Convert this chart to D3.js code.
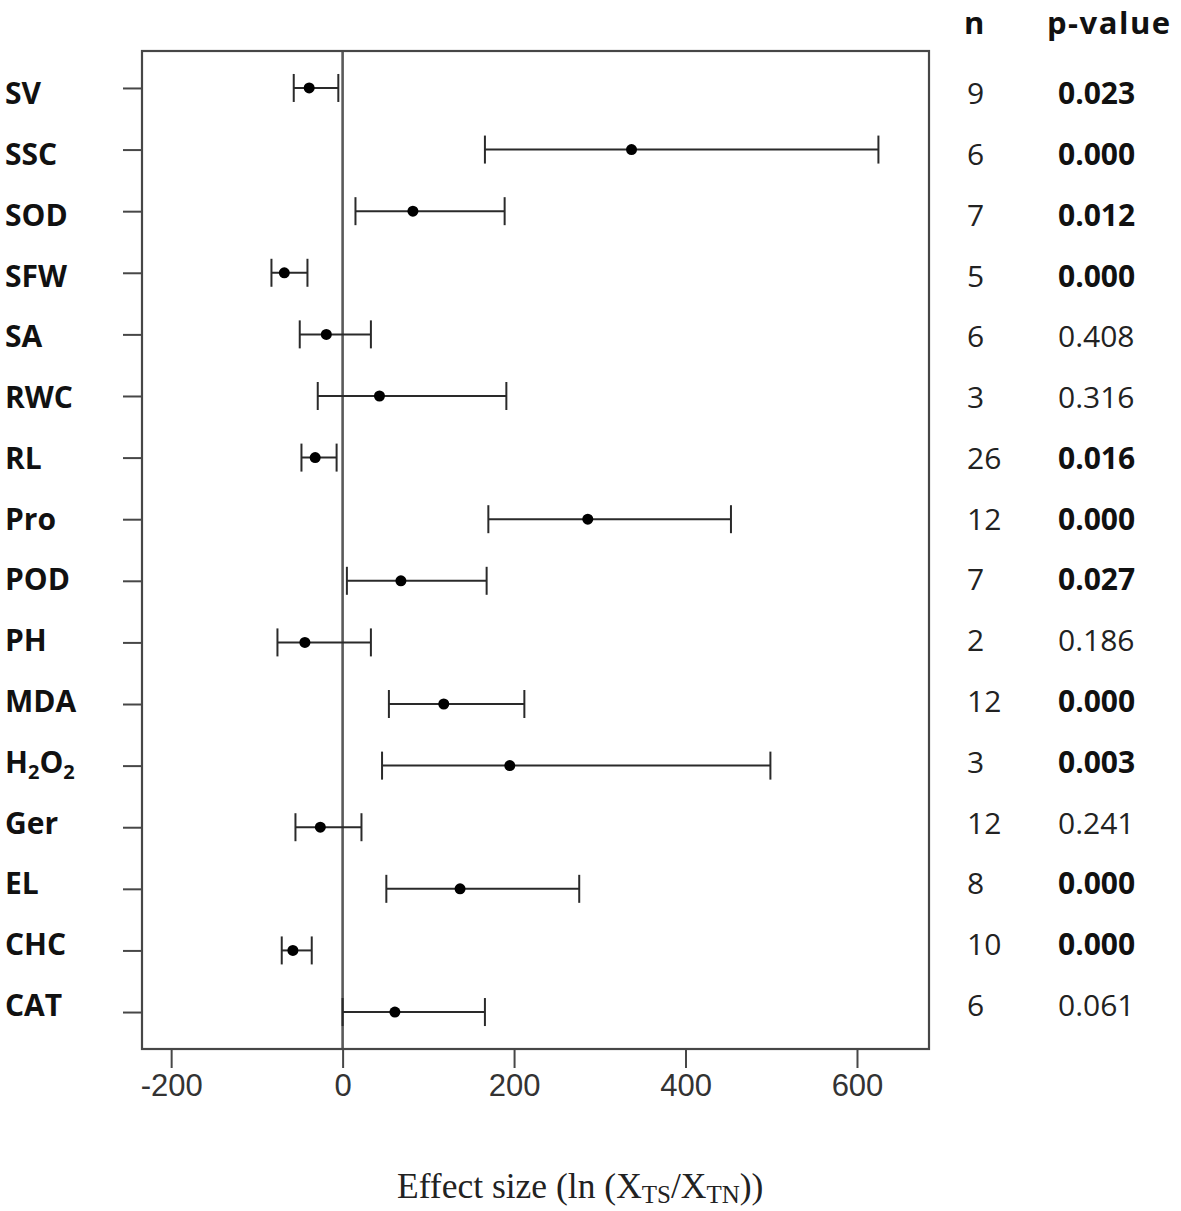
<!DOCTYPE html>
<html>
<head>
<meta charset="utf-8">
<script src="https://cdn.jsdelivr.net/npm/d3@7"></script>
<style>
  html, body { margin: 0; padding: 0; background: #fff; }
  svg { display: block; }
</style>
</head>
<body>
<div id="chart"></div>
<script>
// ---- data ----
const categories = ["SV","SSC","SOD","SFW","SA","RWC","RL","Pro","POD","PH","MDA","H2O2","Ger","EL","CHC","CAT"];
const means  = [-39, 337,  82, -68, -19,  43, -32, 286,  68, -44, 118, 195, -26, 137, -58,  61];
const lowers = [-57, 166,  15, -83, -50, -29, -48, 170,   5, -76,  54,  46, -55,  51, -71,   0];
const uppers = [ -5, 625, 189, -41,  33, 191,  -7, 453, 168,  33, 212, 499,  22, 276, -36, 166];
const nValues = ["9","6","7","5","6","3","26","12","7","2","12","3","12","8","10","6"];
const pValues = ["0.023","0.000","0.012","0.000","0.408","0.316","0.016","0.000","0.027","0.186","0.000","0.003","0.241","0.000","0.000","0.061"];
const xTicks = [-200, 0, 200, 400, 600];

// ---- layout ----
const W = 1181, H = 1211;
const box = { left: 142, right: 929, top: 51, bottom: 1049 };

const svg = d3.select("#chart").append("svg")
  .attr("width", W).attr("height", H)
  .attr("viewBox", `0 0 ${W} ${H}`);

const x = d3.scaleLinear().domain([-234, 684]).range([box.left, box.right]);
const idx = d3.range(categories.length);
const y = d3.scaleLinear().domain([-0.6, categories.length - 0.4]).range([box.top, box.bottom]);
// text rows (labels / n / p) sit on a slightly different grid
const yText = d3.scalePoint().domain(idx).range([93.5, 1005]);

const frameColor = "#474747";

// zero line
svg.append("line")
  .attr("x1", x(0)).attr("x2", x(0))
  .attr("y1", box.top).attr("y2", box.bottom)
  .attr("stroke", "#5a5a5a").attr("stroke-width", 2.6);

// bottom axis
const xAxis = d3.axisBottom(x).tickValues(xTicks).tickSize(19).tickPadding(6).tickFormat(d => String(d));
const gx = svg.append("g").attr("transform", `translate(0,${box.bottom})`).call(xAxis);
gx.select(".domain").remove();
gx.selectAll(".tick line").attr("stroke", frameColor).attr("stroke-width", 2);
gx.selectAll(".tick text")
  .attr("font-family", "'Liberation Sans', Arial, sans-serif")
  .attr("font-size", 31).attr("fill", "#333");

// left axis ticks
const yAxis = d3.axisLeft(y).tickValues(idx).tickSize(19).tickFormat("");
const gy = svg.append("g").attr("transform", `translate(${box.left},0)`).call(yAxis);
gy.select(".domain").remove();
gy.selectAll(".tick line").attr("stroke", frameColor).attr("stroke-width", 2);

// frame
svg.append("rect")
  .attr("x", box.left).attr("y", box.top)
  .attr("width", box.right - box.left).attr("height", box.bottom - box.top)
  .attr("fill", "none").attr("stroke", frameColor).attr("stroke-width", 2.2);

// error bars
const g = svg.append("g");
const capH = 14;
idx.forEach(i => {
  const yy = y(i);
  g.append("line").attr("x1", x(lowers[i])).attr("x2", x(uppers[i]))
    .attr("y1", yy).attr("y2", yy).attr("stroke", "#2a2a2a").attr("stroke-width", 2);
  [lowers[i], uppers[i]].forEach(v => {
    g.append("line").attr("x1", x(v)).attr("x2", x(v))
      .attr("y1", yy - capH).attr("y2", yy + capH)
      .attr("stroke", "#2a2a2a").attr("stroke-width", 2);
  });
  g.append("circle").attr("cx", x(means[i])).attr("cy", yy).attr("r", 5.5).attr("fill", "#000");
});

// row labels
const labelFont = "'Open Sans', 'Noto Sans', sans-serif";
const fs = 30;
idx.forEach(i => {
  const t = svg.append("text")
    .attr("x", 5).attr("y", yText(i) + fs * 0.36)
    .attr("font-family", labelFont).attr("font-weight", "bold")
    .attr("font-size", fs).attr("fill", "#111");
  if (categories[i] === "H2O2") {
    t.append("tspan").text("H");
    t.append("tspan").text("2").attr("font-size", 20).attr("dy", 6);
    t.append("tspan").text("O").attr("dy", -6);
    t.append("tspan").text("2").attr("font-size", 20).attr("dy", 6);
  } else {
    t.text(categories[i]);
  }
});

// column headers
svg.append("text").attr("x", 964).attr("y", 34).text("n")
  .attr("font-family", labelFont).attr("font-weight", "bold").attr("font-size", 31).attr("fill", "#111");
svg.append("text").attr("x", 1047).attr("y", 34).text("p-value")
  .attr("font-family", labelFont).attr("font-weight", "bold").attr("font-size", 31)
  .attr("letter-spacing", 1.5).attr("fill", "#111");

// n and p columns
idx.forEach(i => {
  svg.append("text").attr("x", 967).attr("y", yText(i) + fs * 0.36)
    .text(nValues[i])
    .attr("font-family", labelFont).attr("font-size", fs).attr("fill", "#222");
  const sig = parseFloat(pValues[i]) < 0.05;
  svg.append("text").attr("x", 1058).attr("y", yText(i) + fs * 0.36)
    .text(pValues[i])
    .attr("font-family", labelFont).attr("font-weight", sig ? "bold" : "normal")
    .attr("font-size", fs).attr("fill", sig ? "#111" : "#222");
});

// x axis title
const title = svg.append("text")
  .attr("x", 397).attr("y", 1198)
  .attr("font-family", "'Liberation Serif', 'Times New Roman', serif")
  .attr("font-size", 35.5).attr("fill", "#222");
title.append("tspan").text("Effect size (ln (X");
title.append("tspan").text("TS").attr("font-size", 25).attr("dy", 5);
title.append("tspan").text("/X").attr("dy", -5);
title.append("tspan").text("TN").attr("font-size", 25).attr("dy", 5);
title.append("tspan").text("))").attr("dy", -5);
</script>
</body>
</html>
